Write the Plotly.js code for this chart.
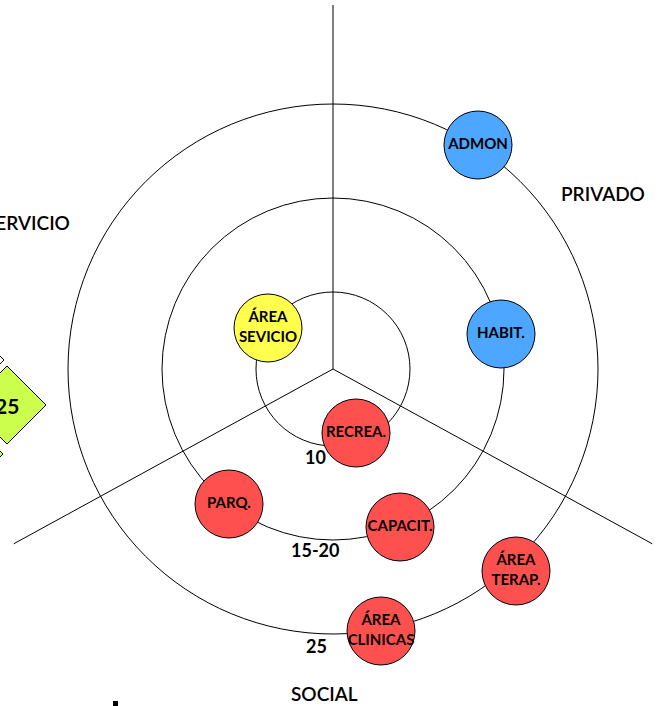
<!DOCTYPE html>
<html>
<head>
<meta charset="utf-8">
<script src="https://cdn.plot.ly/plotly-3.0.1.min.js"></script>
<style>html,body{margin:0;padding:0;background:#fff;}#chart{width:662px;height:706px;}</style>
</head>
<body>
<div id="chart"></div>
<script>
// ---- data ----
const zones = ["PRIVADO", "SERVICIO", "SOCIAL"];
const spokeAngles = [90, 208.7, 331.3];      // dividing lines between zones (deg)
const ringLabels = ["10", "15-20", "25"];
const ringRadii = [77, 171, 265];

const nodeNames = ["ADMON", "HABIT.", "ÁREA<br>SEVICIO", "RECREA.", "PARQ.", "CAPACIT.", "ÁREA<br>CLINICAS", "ÁREA<br>TERAP."];
const nodeZone  = ["PRIVADO", "PRIVADO", "SERVICIO", "SOCIAL", "SOCIAL", "SOCIAL", "SOCIAL", "SOCIAL"];
const nodeX = [145, 168, -65, 23, -104, 67, 48, 183];
const nodeY = [224, 35, 41, -64, -135, -158, -262, -202];

const zoneColors = {PRIVADO: "#4da6ff", SERVICIO: "#ffff4d", SOCIAL: "#ff5050"};
const FONT = "Lato, 'Open Sans', sans-serif";

// ---- figure ----
const spokeLen = 364;
const traces = [];
spokeAngles.forEach(a => {
  const r = a * Math.PI / 180;
  traces.push({
    type: "scatter", mode: "lines",
    x: [0, spokeLen * Math.cos(r)], y: [0, spokeLen * Math.sin(r)],
    line: {color: "#000", width: 1}, hoverinfo: "skip", showlegend: false
  });
});

traces.push({
  type: "scatter", mode: "markers+text",
  x: nodeX, y: nodeY, text: nodeNames,
  textposition: "middle center",
  textfont: {family: FONT, size: 15, color: "#000", weight: "bold"},
  marker: {size: 68, color: nodeZone.map(z => zoneColors[z]), line: {color: "#000", width: 1}, opacity: 1},
  hoverinfo: "skip", showlegend: false, cliponaxis: false
});

const shapes = ringRadii.map(r => ({
  type: "circle", xref: "x", yref: "y", x0: -r, x1: r, y0: -r, y1: r,
  line: {color: "#000", width: 1}, layer: "below"
}));

// partial diamonds at left edge
function diamond(cx, cy, h, fill) {
  return {type: "path", xref: "x", yref: "y",
    path: `M ${cx - h} ${cy} L ${cx} ${cy + h} L ${cx + h} ${cy} L ${cx} ${cy - h} Z`,
    fillcolor: fill, line: {color: "#000", width: 1}, layer: "above"};
}
shapes.push(diamond(-341, 9, 12, "#ffffff"));
shapes.push(diamond(-341, -85, 11, "#ccff4d"));
shapes.push(diamond(-326, -36, 39, "#ccff4d"));
shapes.push({type: "rect", xref: "x", yref: "y", x0: -220, x1: -215, y0: -337, y1: -332,
  fillcolor: "#000", line: {width: 0}});

const annotations = [];
// ring labels
const ringLabelPos = [[-18, -88], [-18, -181], [-17, -277]];
ringLabels.forEach((t, i) => annotations.push({
  x: ringLabelPos[i][0], y: ringLabelPos[i][1], text: t, showarrow: false,
  font: {family: FONT, size: 18, color: "#000", weight: "bold"}
}));
// zone labels
annotations.push({x: 270, y: 176, text: zones[0], showarrow: false, font: {family: FONT, size: 19, color: "#000", weight: 600}});
annotations.push({x: -261, y: 147, text: zones[1], showarrow: false, xanchor: "right", font: {family: FONT, size: 19, color: "#000", weight: 600}});
annotations.push({x: -9, y: -324, text: zones[2], showarrow: false, font: {family: FONT, size: 19, color: "#000", weight: 600}});
annotations.push({x: -326, y: -36, text: "25", showarrow: false, font: {family: FONT, size: 21, color: "#000", weight: "bold"}});

const layout = {
  width: 662, height: 706,
  margin: {l: 0, r: 0, t: 0, b: 0},
  paper_bgcolor: "#fff", plot_bgcolor: "#fff",
  xaxis: {range: [-333, 329], visible: false, fixedrange: true},
  yaxis: {range: [-337, 369], visible: false, fixedrange: true},
  shapes: shapes, annotations: annotations,
  showlegend: false, hovermode: false
};

Plotly.newPlot("chart", traces, layout, {displayModeBar: false, staticPlot: true});
</script>
</body>
</html>
